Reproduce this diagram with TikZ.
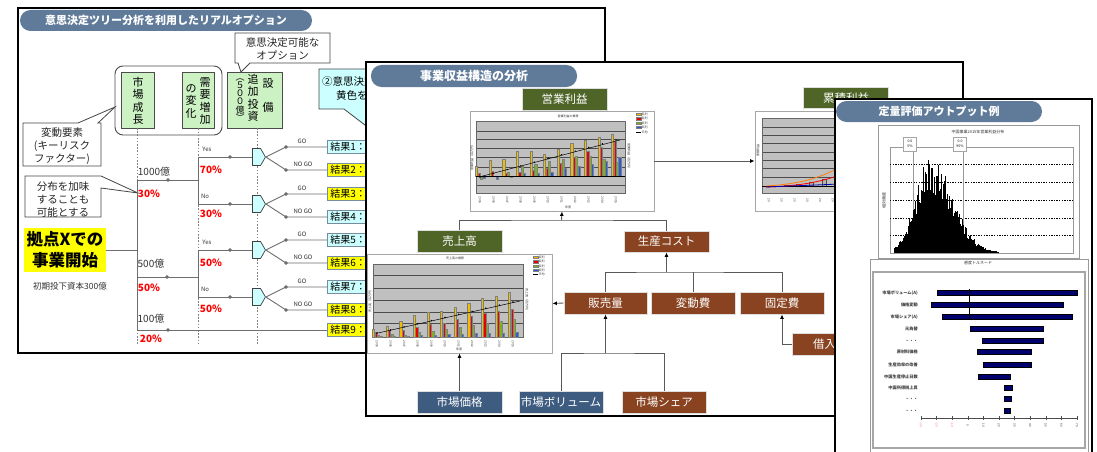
\documentclass[tikz,border=0pt]{standalone}
\usepackage{fontspec}
\usepackage{graphicx}
\setmainfont{Noto Sans CJK JP}
\usetikzlibrary{shapes.symbols,arrows.meta,calc}
\definecolor{pillc}{RGB}{96,123,154}
\definecolor{olive}{RGB}{79,101,40}
\definecolor{brownc}{RGB}{137,67,32}
\definecolor{bluec}{RGB}{62,92,128}
\definecolor{lgreen}{RGB}{204,242,196}
\definecolor{lcyan}{RGB}{204,255,255}
\definecolor{ybox}{RGB}{255,255,0}
\definecolor{treeline}{RGB}{110,110,110}
\definecolor{resbd}{RGB}{120,140,160}
\definecolor{chartgray}{RGB}{192,192,192}
\definecolor{baryel}{RGB}{240,190,0}
\definecolor{barred}{RGB}{230,0,0}
\definecolor{bargreen}{RGB}{120,180,30}
\definecolor{barblue}{RGB}{40,90,220}
\definecolor{navyc}{RGB}{0,0,110}
\newcommand\fsz[2]{\fontsize{#1}{#2}\selectfont}
\tikzset{
  panel/.style={draw=black,line width=1.4pt,fill=white},
  pill/.style={fill=pillc,rounded corners=10.5pt,inner sep=0pt,text=white,font=\fsz{11}{13}\bfseries},
  callout/.style={draw=gray!55!black,line width=0.8pt,fill=white},
  ctext/.style={align=center,inner sep=0pt,font=\fsz{10.5}{13},text=black!85},
  gbox/.style={draw=gray!60!black,line width=0.8pt,fill=lgreen,inner sep=0pt},
  vtext/.style={align=center,inner sep=0pt,font=\fsz{11}{12.5}},
  tl/.style={draw=treeline,line width=0.9pt},
  dotl/.style={draw=gray,line width=0.7pt,dash pattern=on 1.6pt off 1.6pt},
  tdot/.style={circle,fill=treeline,draw=treeline,inner sep=0pt,minimum size=3.4pt},
  dec/.style={signal,signal to=east,signal pointer angle=120,draw=gray!50!black,line width=0.7pt,fill=lcyan,minimum width=13pt,minimum height=17pt,inner sep=0pt},
  res/.style={anchor=west,draw=resbd,line width=0.8pt,minimum height=13pt,text width=44pt,inner xsep=3pt,inner ysep=0pt,align=left,font=\fsz{10}{12}},
  pct/.style={text=red,font=\fsz{10}{12}\bfseries,inner sep=0pt},
  amt/.style={font=\fsz{10}{12},text=black!80,inner sep=0pt},
  yn/.style={font=\fsz{6}{7},text=black!80,inner sep=0pt},
  tbox/.style={minimum width=85pt,minimum height=22pt,inner sep=0pt,text=white,font=\fsz{11.5}{13},draw=gray!25,line width=0.8pt},
  cframe/.style={draw=gray!70,line width=0.8pt,fill=white,inner sep=0pt},
  conn/.style={draw=gray!70!black,line width=0.9pt},
  arr/.style={conn,-{Latex[length=4.5pt,width=4pt,color=black]}},
  tinyt/.style={font=\fsz{3}{3.5},inner sep=0pt,text=black!80},
  bar/.style={draw=black!50,line width=0.2pt}
}
\begin{document}
\begin{tikzpicture}[x=1pt,y=-1pt]
\useasboundingbox (0,0) rectangle (1097,452);
\clip (0,0) rectangle (1097,452);
\fill[white] (0,0) rectangle (1097,452);

%================ Panel 1 =================
\draw[panel] (18,8) rectangle (605,353);
\node[pill,minimum width=292pt,minimum height=21pt] (p1title) at (166,20.5) {意思決定ツリー分析を利用したリアルオプション};

% callout: options
\draw[callout] (235,33) -- (330,33) -- (330,63) -- (250,63) -- (241,72) -- (238,63) -- (235,63) -- cycle;
\node[ctext] (opt) at (282.5,48.5) {意思決定可能な\\オプション};

% group box + green boxes
\draw[gray!60!black,line width=0.9pt,rounded corners=8pt] (115,66) rectangle (222,135);
\node[gbox,minimum width=33pt,minimum height=56pt] (gb1) at (138,100) {};
\node[vtext] (gt1) at (138,101) {市\\場\\成\\長};
\node[gbox,minimum width=32pt,minimum height=56pt] (gb2) at (198,100) {};
\node[vtext] (gt2a) at (205,101) {需\\要\\増\\加};
\node[vtext] (gt2b) at (191,101) {の\\変\\化};
\node[gbox,minimum width=55pt,minimum height=56pt] (gb3) at (254.5,100) {};
\node[vtext,font=\fsz{11}{24}] (gt3a) at (268,96) {設\\備};
\node[vtext] (gt3b) at (253,98) {追\\加\\投\\資};
\node[vtext,font=\fsz{9}{8.3}] (gt3c) at (240,100) {︵\\５\\０\\０\\億\\︶};

% dotted guide lines
\draw[dotl] (137,128) -- (137,345);
\draw[dotl] (gb2.south) -- (198,345);
\draw[dotl] (257,128) -- (257,345);

% callout: key risk factors
\draw[callout] (23,123) -- (78,123) -- (115,107) -- (98,123) -- (101,123) -- (101,166) -- (23,166) -- cycle;
\node[ctext] (risk) at (62,146) {変動要素\\(キーリスク\\ファクター)};
% callout: distribution
\draw[callout] (25,176) -- (101,176) -- (138,193) -- (101,188) -- (101,217) -- (25,217) -- cycle;
\node[ctext] (dist) at (63,199) {分布を加味\\することも\\可能とする};

% callout 2 (cyan, mostly hidden)
\draw[draw=gray!55!black,line width=0.8pt,fill=lcyan] (319,69) -- (385,69) -- (385,109) -- (372,109) -- (378,135) -- (344,109) -- (319,109) -- cycle;
\node[anchor=west,inner sep=0pt,font=\fsz{10.5}{12}] (c2a) at (322,82) {②意思決定};
\node[anchor=west,inner sep=0pt,font=\fsz{10.5}{12}] (c2b) at (336,96) {黄色を};

% start box
\node[fill=ybox,minimum width=82pt,minimum height=44pt,inner sep=0pt,align=center,font=\fsz{16.5}{21}\bfseries] (start) at (65,250) {拠点Xでの\\事業開始};
\node[inner sep=0pt,font=\fsz{8.5}{10},text=black!80] (capital) at (70,286) {初期投下資本300億};

% tree coordinates
\coordinate (root) at (137,250);
\coordinate (b1) at (137,180);
\coordinate (b2) at (137,277);
\coordinate (b3) at (137,330);
\coordinate (s1) at (198,180);
\coordinate (s2) at (198,277);
\coordinate (y1) at (198,157);
\coordinate (n1) at (198,204);
\coordinate (y2) at (198,250);
\coordinate (n2) at (198,297);

% result boxes
\foreach \k/\yy/\cc in {1/147/lcyan,2/170/ybox,3/194/ybox,4/217/lcyan,5/240/lcyan,6/263/ybox,7/287/lcyan,8/310/ybox,9/330/ybox}
  \node[res,fill=\cc] (r\k) at (327,\yy) {結果\k：};

% decision nodes
\foreach \k/\yy in {1/157,2/204,3/250,4/297}
  \node[dec] (d\k) at (256.5,\yy) {};

% tree lines
\draw[tl] (start.east) -- (root);
\draw[tl] (b1) -- (b3);
\draw[tl] (b1) -- (s1);
\draw[tl] (b2) -- (s2);
\draw[tl] (b3) -- (r9.west);
\draw[tl] (y1) -- (n1);
\draw[tl] (y2) -- (n2);
\draw[tl] (y1) -- (d1.west);
\draw[tl] (n1) -- (d2.west);
\draw[tl] (y2) -- (d3.west);
\draw[tl] (n2) -- (d4.west);
\foreach \p in {(168,180),(167,277),(168,330),(230,157),(230,204),(230,250),(230,297)}
  \node[tdot] at \p {};

\foreach \k/\a/\b in {1/1/2,2/3/4,3/5/6,4/7/8}{
  \path (r\a.west) ++(-41,0) coordinate (go\k);
  \path (r\b.west) ++(-41,0) coordinate (ng\k);
  \draw[tl] (d\k.east) -- (go\k) -- (r\a.west);
  \draw[tl] (d\k.east) -- (ng\k) -- (r\b.west);
  \node[tdot] at (go\k) {};
  \node[tdot] at (ng\k) {};
  \node[yn] (gol\k) at ($(go\k)+(16,-6)$) {GO};
  \node[yn] (ngl\k) at ($(ng\k)+(17,-6)$) {NO GO};
}

% labels
\node[amt] (a1) at (154,172) {1000億};
\node[amt] (a2) at (151,264) {500億};
\node[amt] (a3) at (151,319) {100億};
\node[pct] (p1) at (149,194) {30\%};
\node[pct] (p2) at (149,288) {50\%};
\node[pct] (p3) at (151,339) {20\%};
\node[yn] (yes1) at (207,149) {Yes};
\node[yn] (no1) at (205,196) {No};
\node[yn] (yes2) at (207,242) {Yes};
\node[yn] (no2) at (205,289) {No};
\node[pct] (p4) at (211,170) {70\%};
\node[pct] (p5) at (211,214) {30\%};
\node[pct] (p6) at (211,263) {50\%};
\node[pct] (p7) at (211,309) {50\%};

%================ Panel 2 =================
\draw[panel] (366,62) rectangle (963,416);
\node[pill,font=\fsz{12}{13}\bfseries,minimum width=206pt,minimum height=22pt] (p2title) at (474,76) {事業収益構造の分析};

\node[tbox,fill=olive] (eigyo) at (564.5,99) {営業利益};
\node[tbox,fill=olive,minimum height=21pt] (ruiseki) at (846,98) {累積利益};
\node[tbox,fill=olive] (uriage) at (459.5,241) {売上高};
\node[tbox,fill=brownc,minimum height=21pt] (cost) at (666.5,241.5) {生産コスト};
\node[tbox,fill=brownc,minimum width=83pt] (hanbai) at (605.5,303) {販売量};
\node[tbox,fill=brownc,minimum width=84pt] (hendo) at (693,303) {変動費};
\node[tbox,fill=brownc,minimum width=84pt] (kotei) at (782,303) {固定費};
\node[tbox,fill=brownc,minimum width=88pt] (kari) at (836,344) {借入金利};
\node[tbox,fill=bluec] (kakaku) at (459.5,402) {市場価格};
\node[tbox,fill=bluec,minimum width=84pt] (volume) at (561,402) {市場ボリューム};
\node[tbox,fill=brownc,minimum width=84pt] (share) at (664,402) {市場シェア};

% ---- chart 1 (営業利益)
\node[cframe,minimum width=184pt,minimum height=100pt] (c1) at (562,161) {};
\fill[chartgray] (476,121) rectangle (625,193);
\foreach \yy in {131,139,148,157,167,185} \draw[black!70,line width=0.4pt] (476,\yy) -- (625,\yy);
\draw[black!60,line width=0.5pt] (476,121) rectangle (625,193);
\foreach \i/\ya/\yb/\yc/\yd in {0/10/3/-3/-2,1/16/5/0/-3,2/17/3/4/-1,3/25/4/10/3,4/25/6/12/3,5/22/8/15/4,6/27/13/17/8,7/33/19/20/10,8/36/25/20/12,9/39/29/17/15,10/42/35/14/19}{
  \pgfmathsetmacro{\cx}{480+13.6*\i}
  \pgfmathtruncatemacro{\yr}{2005+\i}
  \filldraw[bar,fill=baryel] ({\cx-4.8},176) rectangle ({\cx-2.6},{176-(\ya)});
  \filldraw[bar,fill=barred] ({\cx-2.4},176) rectangle ({\cx-0.2},{176-(\yb)});
  \filldraw[bar,fill=bargreen] ({\cx},176) rectangle ({\cx+2.2},{176-(\yc)});
  \filldraw[bar,fill=barblue] ({\cx+2.4},176) rectangle ({\cx+4.6},{176-(\yd)});
  \node[tinyt,rotate=-90] at ({\cx},200) {\yr};
}
\draw[black,line width=0.5pt] (476,176) -- (625,176);
\draw[black,line width=0.5pt] (479,177) -- (620,140);
\foreach \i in {0,...,10} \fill ({480+13.6*\i},{177-3.7*\i}) circle (0.8pt);
\node[tinyt] (c1t) at (568,116) {営業利益の推移};
\node[tinyt] (c1x) at (568,207) {年度};
\node[tinyt,rotate=90] (c1y) at (472,157) {営業利益（百万円）};
\node[tinyt,rotate=-90] (c1y2) at (629,157) {営業利益（百万円）};
\foreach \k/\cc in {0/baryel,1/barred,2/bargreen,3/barblue}{
  \filldraw[bar,fill=\cc] (636,{113+4.3*\k}) rectangle ++(5,2.5);
  \node[tinyt,anchor=west] at (641.5,{114.3+4.3*\k}) {系列};
}
\draw[black,line width=0.4pt] (636,132) -- (641,132);
\node[tinyt,anchor=west] at (641.5,132) {平均};

% ---- chart 2 (累積)
\node[cframe,minimum width=125pt,minimum height=100pt] (c2) at (817.5,161) {};
\fill[chartgray] (762,118) rectangle (880,193);
\foreach \yy in {127,135,143,152,160,168,177} \draw[black!70,line width=0.4pt] (762,\yy) -- (880,\yy);
\draw[black!60,line width=0.5pt] (762,118) rectangle (880,193);
\foreach \i/\h in {0/0,1/1,2/2,3/4,4/7,5/10}{
  \pgfmathsetmacro{\cx}{769+12.8*\i}
  \filldraw[draw=black!70,fill=gray!60,line width=0.3pt] ({\cx+2},186) rectangle ({\cx+6},{186-\h});
  \node[tinyt,rotate=-90] at ({\cx},200) {20};
}
\draw[black,line width=0.5pt] (762,186) -- (880,186);
\draw[orange,line width=0.8pt] (766,186) .. controls (800,184) and (820,178) .. (840,167);
\draw[red,line width=0.8pt] (766,187) .. controls (800,186) and (820,182) .. (840,175);
\draw[blue!70!black,line width=0.8pt] (766,187) -- (840,184);
\node[tinyt,rotate=90] (c2y) at (758,150) {累積利益};
\draw[arr] (c1.east) -- (c2.west);

% ---- chart 3 (売上高)
\node[cframe,minimum width=185pt,minimum height=99pt] (c3) at (459.5,303.5) {};
\fill[chartgray] (373,264) rectangle (523,337);
\foreach \yy in {275,288,300,312,323} \draw[black!70,line width=0.4pt] (373,\yy) -- (523,\yy);
\draw[black!60,line width=0.5pt] (373,264) rectangle (523,337);
\foreach \i/\ya/\yb/\yc/\yd in {0/8/5/2/1,1/11/7/3/1,2/16/7/2/1,3/22/10/5/2,4/25/13/6/2,5/26/14/8/3,6/30/18/10/3,7/34/21/12/4,8/39/24/14/4,9/41/26/16/4,10/45/28/18/5}{
  \pgfmathsetmacro{\cx}{377+13.6*\i}
  \pgfmathtruncatemacro{\yr}{2005+\i}
  \filldraw[bar,fill=baryel] ({\cx-4.8},337) rectangle ({\cx-2.6},{337-\ya});
  \filldraw[bar,fill=barred] ({\cx-2.4},337) rectangle ({\cx-0.2},{337-\yb});
  \filldraw[bar,fill=bargreen] ({\cx},337) rectangle ({\cx+2.2},{337-\yc});
  \filldraw[bar,fill=barblue] ({\cx+2.4},337) rectangle ({\cx+4.6},{337-\yd});
  \node[tinyt,rotate=-90] at ({\cx},344) {\yr};
}
\draw[black,line width=0.5pt] (378,333) -- (520,301);
\foreach \i in {0,...,10} \fill ({377+13.6*\i},{333-3.1*\i}) circle (0.8pt);
\node[tinyt] (c3t) at (455,258) {売上高の推移};
\node[tinyt] (c3x) at (459,349) {年度};
\node[tinyt,rotate=90] (c3y) at (370,300) {売上高（百万円）};
\node[tinyt,rotate=-90] (c3y2) at (527,300) {売上高（百万円）};
\foreach \k/\cc in {0/baryel,1/barred,2/bargreen,3/barblue}{
  \filldraw[bar,fill=\cc] (533,{256+4.3*\k}) rectangle ++(5,2.5);
  \node[tinyt,anchor=west] at (538.5,{257.3+4.3*\k}) {系列};
}
\draw[black,line width=0.4pt] (533,274) -- (538,274);
\node[tinyt,anchor=west] at (538.5,274) {平均};

% ---- connectors panel 2
\coordinate (tee1) at (561.5,220);
\coordinate (tee2) at (666.5,272);
\coordinate (tee3) at (605.5,353);
\draw[conn] (uriage.north) |- (tee1) -| (cost.north);
\draw[arr] (tee1) -- (c1.south);
\draw[conn] (hanbai.north) |- (tee2) -| (kotei.north);
\draw[conn] (hendo.north) -- (hendo.north |- tee2);
\draw[arr] (tee2) -- (cost.south);
\draw[conn] (volume.north) |- (tee3) -| (share.north);
\draw[arr] (tee3) -- (hanbai.south);
\draw[arr] (hanbai.west) -- (c3.east);
\draw[arr] (kakaku.north) -- (c3.south);
\draw[arr] (kari.west) -| (kotei.south);

%================ Panel 3 =================
\draw[panel] (835,99) rectangle (1092,470);
\node[pill,minimum width=206pt,minimum height=21pt] (p3title) at (939,111.5) {定量評価アウトプット例};

% histogram
\node[cframe,draw=gray!80,minimum width=201pt,minimum height=133pt] (hist) at (978.5,191.5) {};
\node[tinyt,font=\fsz{4}{5}] (histt) at (978,132) {中国事業2015年営業利益分布};
\draw[gray!80,line width=0.5pt] (890,147) rectangle (1073,253);
\foreach \yy in {164,182,200,218,235} \draw[black,line width=0.5pt,dash pattern=on 1.3pt off 1.3pt] (890,\yy) -- (1073,\yy);
\draw[gray!80,line width=0.5pt] (913,143) -- (913,253);
\draw[gray!80,line width=0.5pt] (963,143) -- (963,253);
\node[draw=gray!70,fill=white,minimum width=13pt,minimum height=14pt,inner sep=0pt,align=center,font=\fsz{3.5}{4.5}] (q5) at (910,144) {0.0\\5\%};
\node[draw=gray!70,fill=white,minimum width=13pt,minimum height=14pt,inner sep=0pt,align=center,font=\fsz{3.5}{4.5}] (q95) at (960,144) {0.0\\95\%};
\pgfmathsetseed{4242}
\foreach \i in {0,...,104}{
  \pgfmathsetmacro{\xx}{894+\i}
  \pgfmathsetmacro{\sg}{(\xx<930)*15+(\xx>=930)*22}
  \pgfmathsetmacro{\hh}{84*exp(-((\xx-930)/\sg)^2/2)*(0.7+0.45*rnd)+0.8}
  \fill[black] (\xx,253) rectangle ({\xx+1.05},{253-\hh});
}
\node[tinyt,rotate=90,font=\fsz{4}{5}] (histy) at (884,200) {相対頻度};

% tornado
\node[cframe,draw=gray!80,minimum width=218pt,minimum height=211pt] (torn) at (979,364.5) {};
\draw[gray!70,line width=1.2pt] (873,272) rectangle (1085,448);
\node[tinyt,font=\fsz{4}{5}] (tornt) at (978,263) {感度トルネード};
\foreach \a/\b/\yy in {937/1077/293,931/1063/305,942/1072/317,970/1043/329,982/1043/341,977/1031/352,983/1031/365,978/1010/377,1004/1012/388,1004/1011/399,1004/1010/411}
  \filldraw[fill=navyc,draw=black,line width=0.3pt] (\a,{\yy-2.6}) rectangle (\b,{\yy+2.6});
\draw[black,line width=0.4pt] (968.8,289) -- (968.8,320);
\foreach \t/\yy in {市場ボリューム(A)/293,価格変動/305,市場シェア(A)/317,元為替/329,・・・/341,原材料価格/352,生産効率の改善/365,中国生産停止日数/377,中国所得税上昇/388,・・・/399,・・・/411}
  \node[anchor=east,inner sep=0pt,font=\fsz{4.2}{5}\bfseries,text=black!75] at (918,\yy) {\t};
\draw[black!70,line width=0.5pt] (921,418) -- (1077,418);
\foreach \k/\lab in {0/-30,1/-20,2/-10,3/0,4/10,5/20,6/30,7/40,8/50,9/60,10/70}{
  \pgfmathsetmacro{\tx}{921+15.6*\k}
  \draw[black!70,line width=0.4pt] (\tx,416) -- (\tx,420);
  \ifnum\k<3
    \node[tinyt,rotate=-90,text=red!60] at (\tx,425) {\lab};
  \else
    \node[tinyt,rotate=-90] at (\tx,425) {\lab};
  \fi
}
\end{tikzpicture}
\end{document}
